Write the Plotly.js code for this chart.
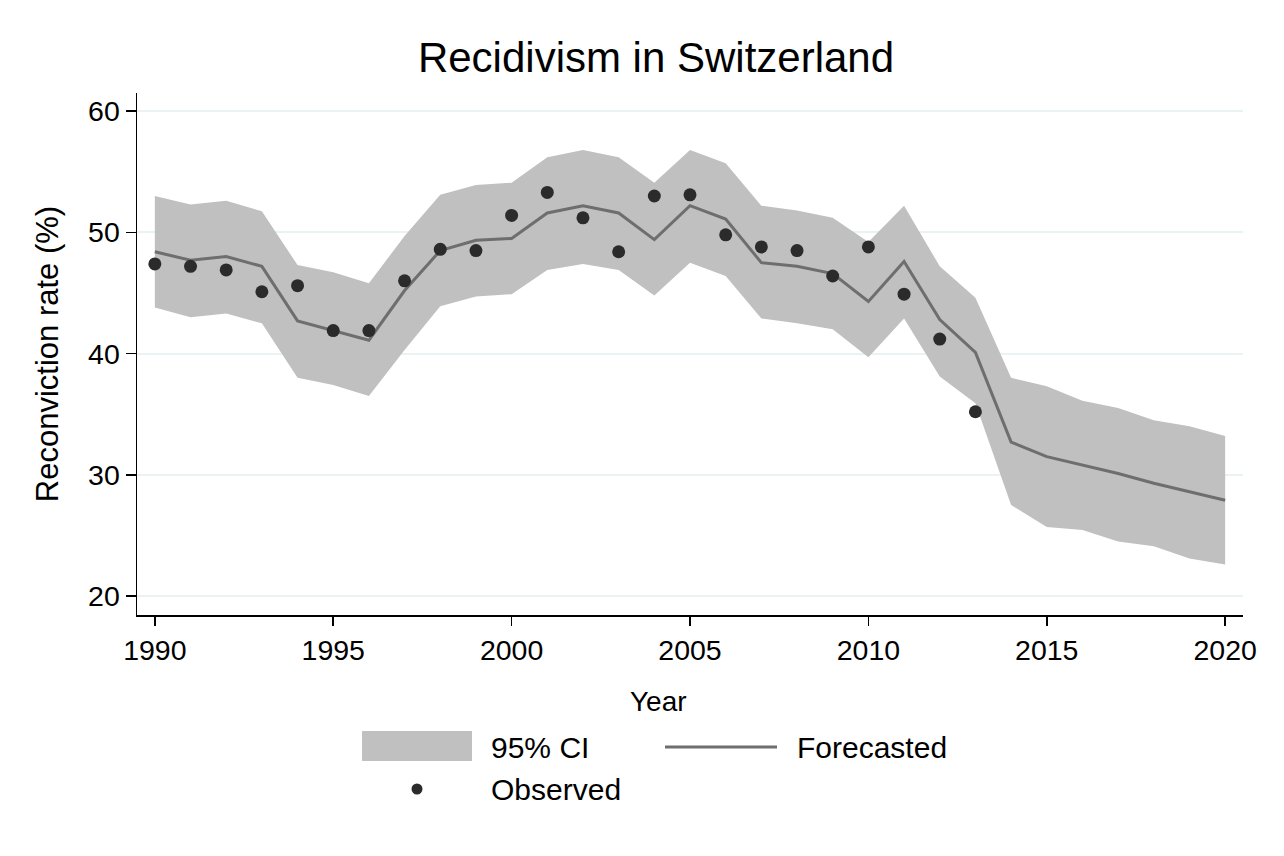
<!DOCTYPE html>
<html>
<head>
<meta charset="utf-8">
<script src="https://cdn.plot.ly/plotly-3.0.1.min.js"></script>
<style>html,body{margin:0;padding:0;background:#fff;}#chart{width:1284px;height:856px;}</style>
</head>
<body>
<div id="chart"></div>
<script>
const years = [1990,1991,1992,1993,1994,1995,1996,1997,1998,1999,2000,2001,2002,2003,2004,2005,2006,2007,2008,2009,2010,2011,2012,2013,2014,2015,2016,2017,2018,2019,2020];
const obsYears = [1990,1991,1992,1993,1994,1995,1996,1997,1998,1999,2000,2001,2002,2003,2004,2005,2006,2007,2008,2009,2010,2011,2012,2013];
const observed = [47.4,47.2,46.9,45.1,45.6,41.9,41.9,46.0,48.6,48.5,51.4,53.3,51.2,48.4,53.0,53.1,49.8,48.8,48.5,46.4,48.8,44.9,41.2,35.2];
const forecast = [48.4,47.7,48.0,47.2,42.7,41.9,41.1,45.2,48.5,49.35,49.5,51.6,52.2,51.6,49.4,52.2,51.1,47.5,47.2,46.6,44.3,47.6,42.8,40.1,32.7,31.5,30.8,30.1,29.3,28.6,27.9];
const ciUpper = [53.0,52.3,52.6,51.75,47.3,46.7,45.8,49.7,53.1,53.9,54.1,56.2,56.8,56.2,54.1,56.8,55.7,52.2,51.8,51.2,49.2,52.2,47.2,44.6,38.0,37.3,36.1,35.5,34.5,34.0,33.2];
const ciLower = [43.8,43.0,43.3,42.5,38.0,37.4,36.5,40.3,43.9,44.7,44.9,46.9,47.4,46.9,44.8,47.5,46.4,42.9,42.5,42.0,39.7,42.9,38.1,35.9,27.5,25.7,25.45,24.5,24.1,23.1,22.6];
const yTicks = [20,30,40,50,60];
const xTicks = [1990,1995,2000,2005,2010,2015,2020];
const legendLabels = ["95% CI","Forecasted","Observed"];

const ciColor = '#c0c0c0', lineColor = '#6e6e6e', dotColor = '#2b2b2b';
const FONT = 'Liberation Sans, Arial, sans-serif';

const M = {l:137, r:41, t:93, b:241};
const W = 1284, H = 856;
const pw = W - M.l - M.r, ph = H - M.t - M.b;
const px = x => (x - M.l) / pw;
const py = y => (H - M.b - y) / ph;

const traces = [
  {x: years, y: ciUpper, type:'scatter', mode:'lines', line:{width:0, color:ciColor}, hoverinfo:'skip', showlegend:false},
  {x: years, y: ciLower, type:'scatter', mode:'lines', line:{width:0, color:ciColor}, fill:'tonexty', fillcolor:ciColor, name:legendLabels[0], showlegend:false},
  {x: years, y: forecast, type:'scatter', mode:'lines', line:{width:3, color:lineColor}, name:legendLabels[1], showlegend:false},
  {x: obsYears, y: observed, type:'scatter', mode:'markers', marker:{size:13, color:dotColor}, name:legendLabels[2], showlegend:false}
];

const shapes = [
  {type:'rect', xref:'paper', yref:'paper', x0:px(362), x1:px(472), y0:py(761), y1:py(731), fillcolor:ciColor, line:{width:0}},
  {type:'line', xref:'paper', yref:'paper', x0:px(665), x1:px(777), y0:py(747), y1:py(747), line:{color:lineColor, width:3}},
  {type:'circle', xref:'paper', yref:'paper', x0:px(411.5), x1:px(422.5), y0:py(794.5), y1:py(783.5), fillcolor:dotColor, line:{width:0}}
];
const legFont = {family:FONT, size:30, color:'#000'};
const annotations = [
  {text:legendLabels[0], xref:'paper', yref:'paper', x:px(489), y:py(747), xanchor:'left', yanchor:'middle', showarrow:false, font:legFont},
  {text:legendLabels[1], xref:'paper', yref:'paper', x:px(795), y:py(747), xanchor:'left', yanchor:'middle', showarrow:false, font:legFont},
  {text:legendLabels[2], xref:'paper', yref:'paper', x:px(489), y:py(789), xanchor:'left', yanchor:'middle', showarrow:false, font:legFont},
  {text:'Year', xref:'paper', yref:'paper', x:px(658), y:py(701), xanchor:'center', yanchor:'middle', showarrow:false, font:{family:FONT, size:28, color:'#000'}}
];

const layout = {
  width: W, height: H,
  margin: M,
  paper_bgcolor:'#fff', plot_bgcolor:'#fff',
  font:{family:FONT, color:'#000'},
  title:{text:'Recidivism in Switzerland', font:{family:FONT, size:42, color:'#000'}, x:656/W, xref:'container', xanchor:'center', y:1-57/H, yref:'container', yanchor:'middle'},
  xaxis:{
    range:[1989.5, 2020.5], tickvals:xTicks, ticktext:xTicks.map(String),
    ticks:'outside', ticklen:9, tickwidth:1.5, tickcolor:'#000',
    showline:true, linecolor:'#000', linewidth:1.5, showgrid:false, zeroline:false,
    tickfont:{family:FONT, size:28.5, color:'#000'}
  },
  yaxis:{
    range:[18.43, 61.5], tickvals:yTicks, ticktext:yTicks.map(String),
    ticks:'outside', ticklen:10, tickwidth:1.5, tickcolor:'#000',
    showline:true, linecolor:'#000', linewidth:1.5, showgrid:true, gridcolor:'#eaf2f3', gridwidth:2, zeroline:false,
    tickfont:{family:FONT, size:28.5, color:'#000'},
    title:{text:'Reconviction rate (%)', font:{family:FONT, size:31, color:'#000'}, standoff:20}
  },
  showlegend:false,
  shapes: shapes,
  annotations: annotations
};

Plotly.newPlot('chart', traces, layout, {displayModeBar:false, staticPlot:true});
</script>
</body>
</html>
